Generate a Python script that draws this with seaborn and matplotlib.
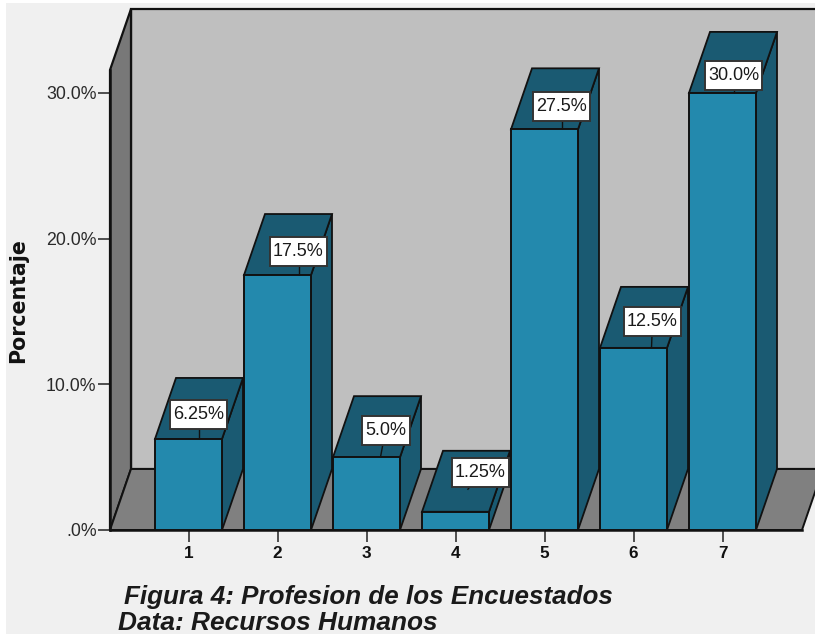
import matplotlib
matplotlib.use("Agg")
import matplotlib.pyplot as plt
import pandas as pd
import seaborn as sns
from matplotlib.patches import Polygon, Rectangle
from matplotlib.ticker import FuncFormatter

categories = ["1", "2", "3", "4", "5", "6", "7"]
percentages = [6.25, 17.5, 5.0, 1.25, 27.5, 12.5, 30.0]
value_labels = ["6.25%", "17.5%", "5.0%", "1.25%", "27.5%", "12.5%", "30.0%"]
y_ticks = [0, 10, 20, 30]
title_lines = ["Figura 4: Profesion de los Encuestados", "Data: Recursos Humanos"]

# Pixel offsets of each value box from the centre of its bar's top edge
label_dx = [10, 21, 19, 25, 17, 19, 11]
label_dy = [24, 24, 27, 39, 23, 26, 17]
box_widths = [57, 57, 48, 57, 57, 57, 57]
# Where each leader line ends, in pixels from the centre of the bar's top edge
leader_dx = [10, 21, 14, 12, 17, 18, 11]
leader_end_dy = [0, 0, 0, 22, 0, 0, 0]

FRONT = "#2389ad"
SIDE = "#1a5a72"
WALL = "#bfbfbf"
SIDE_WALL = "#787878"
FLOOR = "#808080"
LINE = "#111111"
PAGE = "#f0f0f0"

W, H = 815, 634
sns.set_theme(style="white")
plt.rcParams["font.family"] = ["Liberation Sans", "DejaVu Sans"]

fig = plt.figure(figsize=(W / 100, H / 100), dpi=100, facecolor="white")
fig.add_artist(Rectangle((6 / W, 0), 1, 1 - 3 / H, transform=fig.transFigure,
                         facecolor=PAGE, edgecolor="none", zorder=-5))

ax = fig.add_axes([110 / W, (H - 530) / H, (W - 110) / W, 530 / H])
ax.patch.set_alpha(0)

frame = pd.DataFrame({"profesion": categories, "porcentaje": percentages})
sns.barplot(data=frame, x="profesion", y="porcentaje", color=FRONT, saturation=1,
            width=67 / 89, edgecolor=LINE, linewidth=1.4, ax=ax, zorder=4)

px_x = 1 / 89
px_y = 10 / 145.7
ax.set_xlim((110 - 188.5) * px_x, (W - 188.5) * px_x)
ax.set_ylim(0, 530 * px_y)
depth_x = 21 * px_x
depth_y = 61 * px_y
half = 67 / 89 / 2
x_left, x_right = ax.get_xlim()
wall_top = 521 * px_y
floor_right = (802 - 188.5) * px_x

# Back wall, left wall and floor of the box behind the bars
ax.add_patch(Polygon([(x_left + depth_x, depth_y), (x_left + depth_x, wall_top),
                      (x_right + 1, wall_top), (x_right + 1, depth_y)],
                     facecolor=WALL, edgecolor=LINE, linewidth=1.6, zorder=1))
ax.add_patch(Polygon([(x_left, 0), (x_left, wall_top - depth_y),
                      (x_left + depth_x, wall_top), (x_left + depth_x, depth_y)],
                     facecolor=SIDE_WALL, edgecolor=LINE, linewidth=1.6, zorder=1.5, clip_on=False))
ax.add_patch(Polygon([(x_left, 0), (x_left + depth_x, depth_y),
                      (floor_right + depth_x, depth_y), (floor_right, 0)],
                     facecolor=FLOOR, edgecolor=LINE, linewidth=1.4, zorder=1.5))

# Top and side faces give each bar its depth
for i, value in enumerate(percentages):
    left, right = i - half, i + half
    ax.add_patch(Polygon([(right, 0), (right, value), (right + depth_x, value + depth_y),
                          (right + depth_x, depth_y)],
                         facecolor=SIDE, edgecolor=LINE, linewidth=1.3, zorder=3))
    ax.add_patch(Polygon([(left, value), (right, value), (right + depth_x, value + depth_y),
                          (left + depth_x, value + depth_y)],
                         facecolor=SIDE, edgecolor=LINE, linewidth=1.3, zorder=3))

# Value boxes with a short leader line down towards the bar top
for i, value in enumerate(percentages):
    xc = i + label_dx[i] * px_x
    yc = value + label_dy[i] * px_y
    box_w = box_widths[i] * px_x
    box_h = 29 * px_y
    ax.plot([xc, i + leader_dx[i] * px_x], [yc, value + leader_end_dy[i] * px_y], color=LINE,
            linewidth=1.0, zorder=5, solid_capstyle="butt")
    ax.add_patch(Rectangle((xc - box_w / 2, yc - box_h / 2), box_w, box_h, facecolor="white",
                           edgecolor="#333333", linewidth=1.4, zorder=6))
    ax.text(xc, yc, value_labels[i], ha="center", va="center", fontsize=13,
            color="#1a1a1a", zorder=7)

ax.set_yticks(y_ticks)
ax.yaxis.set_major_formatter(FuncFormatter(lambda v, _: ".0%" if v == 0 else f"{v:.1f}%"))
ax.tick_params(axis="y", length=8.5, width=1.2, color="#333333", labelsize=12.8,
               labelcolor="#2a2a2a", pad=1.2, left=True)
ax.tick_params(axis="x", length=8.5, width=1.2, color="#333333", labelsize=12.3,
               labelcolor="#111111", pad=3, bottom=True)
for tick in ax.get_xticklabels():
    tick.set_fontweight("bold")

sns.despine(ax=ax, top=True, right=True)
for side, bounds in (("left", (0, wall_top - depth_y)), ("bottom", (x_left, floor_right))):
    spine = ax.spines[side]
    spine.set_bounds(*bounds)
    spine.set_linewidth(1.8)
    spine.set_color(LINE)
    spine.set_zorder(2)

ax.set_xlabel("")
ax.set_ylabel("")
fig.text(18 / W, 1 - 300.5 / H, "Porcentaje", rotation=90, ha="center", va="center",
         fontsize=14.8, fontweight="bold", family="DejaVu Sans", color="#111111")
fig.text(124 / W, 1 - 604 / H, title_lines[0], ha="left", va="baseline", fontsize=18.7,
         fontstyle="italic", fontweight="bold", color="#1a1a1a")
fig.text(118 / W, 1 - 630 / H, title_lines[1], ha="left", va="baseline", fontsize=18.9,
         fontstyle="italic", fontweight="bold", color="#1a1a1a")

fig.savefig("out.png", dpi=100, facecolor=fig.get_facecolor())
